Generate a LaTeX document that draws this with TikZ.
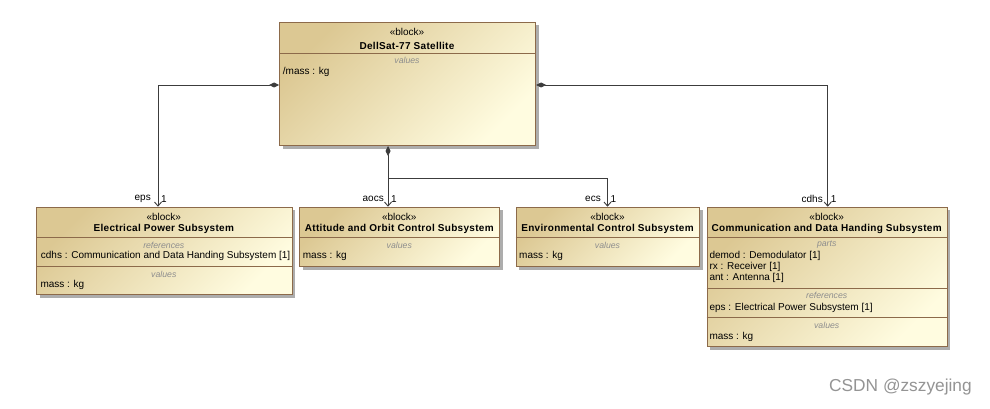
\documentclass[tikz,border=0pt]{standalone}
\usepackage{fontspec}
\setmainfont{Liberation Sans}
\usetikzlibrary{arrows.meta,shadows,calc}
\definecolor{tanA}{HTML}{DCC893}
\definecolor{creamB}{HTML}{FFFCE0}
\definecolor{bord}{HTML}{8C6A4A}
\definecolor{conn}{HTML}{3C3C3C}
\definecolor{cmpt}{HTML}{8E8E8E}
\tikzset{
  x=1pt, y=-1pt,
  blockbox/.style 2 args={draw=bord, line width=1pt, top color=tanA, bottom color=creamB, shading angle=45,
    drop shadow={shadow xshift=3pt, shadow yshift=-3pt, fill=black!32, opacity=1},
    anchor=north west, inner sep=0pt, minimum width=#1pt, minimum height=#2pt},
  sepline/.style={draw=bord, line width=1pt},
  stereo/.style={inner sep=0pt, font=\fontsize{10}{12}\selectfont},
  btitle/.style={inner sep=0pt, font=\fontsize{10}{12}\selectfont\bfseries\addfontfeatures{LetterSpace=3}},
  cmptlbl/.style={inner sep=0pt, text=cmpt, font=\fontsize{8.7}{10}\selectfont\itshape},
  attr/.style={inner sep=0pt, anchor=west, font=\fontsize{10}{12}\selectfont},
  rolelbl/.style={inner sep=0pt, font=\fontsize{10}{12}\selectfont},
  comp/.style={draw=conn, line width=0.9pt, {Diamond[length=10pt,width=5pt]}-{Straight Barb[length=4pt,width=7pt]}},
  partline/.style={draw=conn, line width=0.9pt, -{Straight Barb[length=4pt,width=7pt]}},
}
\begin{document}
\begin{tikzpicture}
\useasboundingbox[fill=white] (0,0) rectangle (990,409);

% ---- Satellite
\node[blockbox={256}{123}] (sat) at (279,22) {};
\draw[sepline] (sat.west |- 0,53.3) -- (sat.east |- 0,53.3);
\node[stereo] (satst) at (407,31.5) {«block»};
\node[btitle] (satti) at (407,45.7) {DellSat-77 Satellite};
\node[cmptlbl] (satvl) at (407,60.7) {values};
\node[attr] (satm) at (282.7,72.3) {/mass : kg};

% ---- EPS
\node[blockbox={255.7}{87.6}] (eps) at (36,206.7) {};
\draw[sepline] (eps.west |- 0,237.3) -- (eps.east |- 0,237.3);
\draw[sepline] (eps.west |- 0,266) -- (eps.east |- 0,266);
\node[stereo] (epsst) at (163.8,216.5) {«block»};
\node[btitle] (epsti) at (163.8,229.3) {Electrical Power Subsystem};
\node[cmptlbl] (epsrf) at (163.8,245) {references};
\node[attr] (epsc) at (40.7,256) {cdhs : Communication and Data Handing Subsystem [1]};
\node[cmptlbl] (epsvl) at (163.8,274.3) {values};
\node[attr] (epsm) at (40.3,285) {mass : kg};

% ---- AOCS
\node[blockbox={200}{59.3}] (aocs) at (299.3,206.7) {};
\draw[sepline] (aocs.west |- 0,237.3) -- (aocs.east |- 0,237.3);
\node[stereo] (aocsst) at (399.3,216.5) {«block»};
\node[btitle] (aocsti) at (399.3,229.3) {Attitude and Orbit Control Subsystem};
\node[cmptlbl] (aocsvl) at (399.3,245) {values};
\node[attr] (aocsm) at (302.7,256) {mass : kg};

% ---- ECS
\node[blockbox={183.6}{59.3}] (ecs) at (515.7,206.7) {};
\draw[sepline] (ecs.west |- 0,237.3) -- (ecs.east |- 0,237.3);
\node[stereo] (ecsst) at (607.5,216.5) {«block»};
\node[btitle] (ecsti) at (607.5,229.3) {Environmental Control Subsystem};
\node[cmptlbl] (ecsvl) at (607.5,245) {values};
\node[attr] (ecsm) at (519,256) {mass : kg};

% ---- CDHS
\node[blockbox={240}{139.6}] (cdhs) at (706.7,206.7) {};
\draw[sepline] (cdhs.west |- 0,237.3) -- (cdhs.east |- 0,237.3);
\draw[sepline] (cdhs.west |- 0,288.3) -- (cdhs.east |- 0,288.3);
\draw[sepline] (cdhs.west |- 0,317.3) -- (cdhs.east |- 0,317.3);
\node[stereo] (cdhsst) at (826.7,216.5) {«block»};
\node[btitle] (cdhsti) at (826.7,229.3) {Communication and Data Handing Subsystem};
\node[cmptlbl] (cdhspt) at (826.7,245) {parts};
\node[attr] (cdhsp1) at (709.3,256) {demod : Demodulator [1]};
\node[attr] (cdhsp2) at (709.3,266.7) {rx : Receiver [1]};
\node[attr] (cdhsp3) at (709.3,277.7) {ant : Antenna [1]};
\node[cmptlbl] (cdhsrf) at (826.7,295.7) {references};
\node[attr] (cdhsr1) at (709.3,307.7) {eps : Electrical Power Subsystem [1]};
\node[cmptlbl] (cdhsvl) at (826.7,325) {values};
\node[attr] (cdhsm) at (709.3,337.3) {mass : kg};

% ---- connectors
\draw[comp] (sat.west |- 0,85) -| (158,0 |- eps.north);
\draw[comp] (sat.east |- 0,85) -| (827.7,0 |- cdhs.north);
\draw[comp] (388,0 |- sat.south) -- (388,0 |- aocs.north);
\coordinate (jn) at (388,178);
\draw[partline] (jn) -| (607.5,0 |- ecs.north);

% ---- role labels
\node[rolelbl, anchor=east] (l1) at (151,199) {eps};
\node[rolelbl, anchor=west] (m1) at (161,199) {1};
\node[rolelbl, anchor=east] (l2) at (384,199) {aocs};
\node[rolelbl, anchor=west] (m2) at (391,199) {1};
\node[rolelbl, anchor=east] (l3) at (601,199) {ecs};
\node[rolelbl, anchor=west] (m3) at (610.5,199) {1};
\node[rolelbl, anchor=east] (l4) at (823,199) {cdhs};
\node[rolelbl, anchor=west] (m4) at (830.7,199) {1};

% ---- watermark
\node[inner sep=0pt, anchor=west, text=black!42, font=\fontsize{17.3}{20}\selectfont] (wm) at (829,387) {CSDN @zszyejing};
\end{tikzpicture}
\end{document}
